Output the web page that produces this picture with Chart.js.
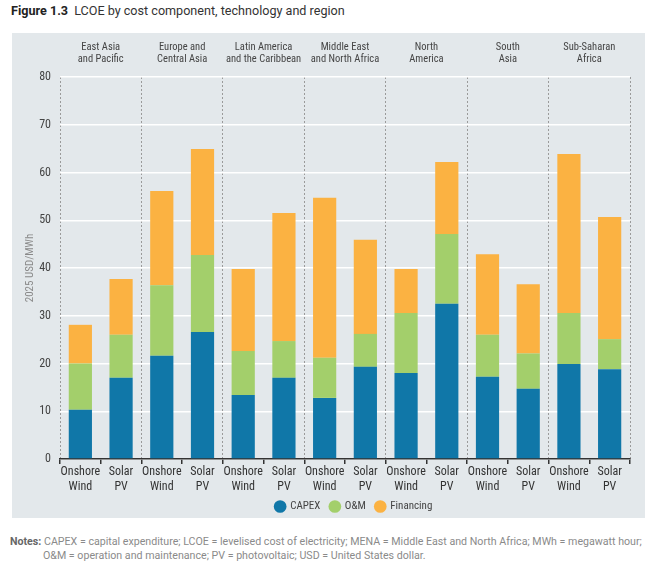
<!DOCTYPE html>
<html>
<head>
<meta charset="utf-8">
<script src="https://cdn.jsdelivr.net/npm/chart.js@4"></script>
<style>
  body { margin: 0; background: #fff; font-family: Roboto, sans-serif; width: 656px; height: 565px; position: relative; overflow: hidden; }
  #title { position: absolute; left: 11px; top: 3px; font-size: 12.6px; color: #333; }
  #title b { color: #222; margin-right: 3px; }
  #panel { position: absolute; left: 12px; top: 33px; width: 633px; height: 485px; background: #e3e8eb; }
  #notes { position: absolute; left: 10px; top: 535px; font-size: 10.65px; color: #8a8a8a; line-height: 14px; white-space: nowrap; }
  #notes b { color: #666; }
  #notes .l2 { padding-left: 33px; }
</style>
</head>
<body>
<div id="title"><b>Figure 1.3</b> LCOE by cost component, technology and region</div>
<div id="panel"><canvas id="chart" width="633" height="485"></canvas></div>
<div id="notes">
  <div><b>Notes:</b> CAPEX = capital expenditure; LCOE = levelised cost of electricity; MENA = Middle East and North Africa; MWh = megawatt hour;</div>
  <div class="l2">O&amp;M = operation and maintenance; PV = photovoltaic; USD = United States dollar.</div>
</div>
<script>
// Regions shown above the chart
const regions = [
    ['East Asia', 'and Pacific'],
    ['Europe and', 'Central Asia'],
    ['Latin America', 'and the Caribbean'],
    ['Middle East', 'and North Africa'],
    ['North', 'America'],
    ['South', 'Asia'],
    ['Sub-Saharan', 'Africa'],
];

// One onshore wind and one solar PV bar per region
const techs = [['Onshore', 'Wind'], ['Solar', 'PV']];
const categories = [];
regions.forEach(() => techs.forEach(t => categories.push(t)));

// USD/MWh
const capex     = [10.3, 17.0, 21.6, 26.6, 13.4, 17.0, 12.8, 19.3, 18.0, 32.5, 17.2, 14.7, 19.9, 18.8];
const om        = [ 9.7,  9.0, 14.8, 16.1,  9.2,  7.7,  8.4,  6.9, 12.6, 14.6,  8.8,  7.4, 10.7,  6.3];
const financing = [ 8.1, 11.7, 19.7, 22.2, 17.2, 26.8, 33.5, 19.7,  9.2, 15.1, 16.9, 14.5, 33.3, 25.6];

const yTicks = [0, 10, 20, 30, 40, 50, 60, 70, 80];

Chart.defaults.font.family = "'Liberation Sans Narrow', 'Roboto Condensed', Roboto, sans-serif";

// keep the legend short and place it under the middle of the plot
const legendFix = {
    id: 'legendFix',
    afterInit(chart) {
        const lg = chart.legend;
        const fit = lg.fit.bind(lg);
        lg.fit = function () { fit(); this.height = 27; };
    },
    afterLayout(chart) {
        const lg = chart.legend;
        lg.left += 28; lg.right += 28;
    }
};

const ctx = document.getElementById('chart').getContext('2d');
new Chart(ctx, {
    type: 'bar',
    data: {
        labels: categories,
        datasets: [
            { label: 'CAPEX', data: capex, backgroundColor: '#1077a8' },
            { label: 'O&M', data: om, backgroundColor: '#a3cf6b' },
            { label: 'Financing', data: financing, backgroundColor: '#fbb242' },
        ]
    },
    plugins: [legendFix],
    options: {
        responsive: false,
        animation: false,
        layout: { padding: { left: 10, right: 15, top: 0, bottom: 0 } },
        datasets: { bar: { categoryPercentage: 1, barPercentage: 0.57 } },
        plugins: {
            tooltip: { enabled: false },
            legend: {
                position: 'bottom',
                labels: {
                    usePointStyle: true,
                    pointStyle: 'circle',
                    boxWidth: 9,
                    boxHeight: 9,
                    padding: 10,
                    color: '#444',
                    font: { size: 11 }
                }
            }
        },
        scales: {
            x: {
                stacked: true,
                border: { display: true, color: '#333', width: 1.5 },
                grid: { display: true, drawOnChartArea: false, offset: true, color: '#333', lineWidth: 1.5, tickLength: 5 },
                ticks: { color: '#333', font: { size: 12 }, padding: 1, maxRotation: 0, autoSkip: false },
                afterFit: s => { s.height = 32; }
            },
            x2: {
                type: 'category',
                position: 'top',
                labels: regions,
                border: { display: false, dash: [2, 2] },
                grid: { offset: true, color: '#9a9a9a', lineWidth: 1, drawTicks: false },
                ticks: { color: '#444', font: { size: 10.5 }, padding: 11, maxRotation: 0, autoSkip: false },
                afterFit: s => { s.height = 44; }
            },
            y: {
                stacked: true,
                min: 0,
                max: 80,
                afterBuildTicks: s => { s.ticks = yTicks.map(v => ({ value: v })); },
                border: { display: false },
                grid: { color: '#ffffff', lineWidth: 1.5, drawTicks: false },
                ticks: { color: '#444', font: { size: 12 }, padding: 9 },
                title: { display: true, text: '2025 USD/MWh', color: '#8a8a8a', font: { size: 11 }, padding: 2 },
                afterFit: s => { s.width = 38; }
            }
        }
    }
});
</script>
</body>
</html>
